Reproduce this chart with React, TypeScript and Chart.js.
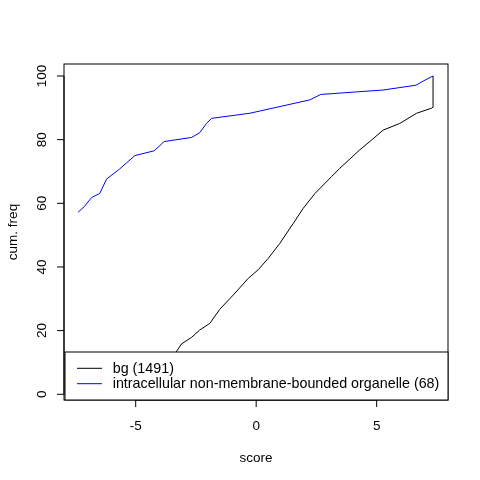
import { useEffect, useRef } from "react"
import { Chart, registerables } from "chart.js"

Chart.register(...registerables)

// ECDF of the background scores
const bgX = [-7.95, -6.0, -5.0, -4.3, -3.8, -3.33, -3.1, -2.68, -2.34, -1.92, -1.51, -0.95, -0.33, 0.08, 0.5, 0.98, 1.54, 1.95, 2.44, 3.13, 3.47, 4.3, 4.79, 5.27, 5.96, 6.66, 7.28, 7.34, 7.34]
const bgY = [0, 1, 3, 6, 9.5, 13.2, 15.8, 17.9, 20.2, 22.3, 26.7, 31.2, 36.4, 39.1, 42.7, 47.4, 53.7, 58.4, 63.1, 68.4, 71.0, 76.8, 79.9, 83.0, 85.1, 88.3, 89.9, 90.2, 100]

// ECDF of the organelle set
const setX = [-7.39, -7.14, -6.83, -6.49, -6.21, -5.68, -5.03, -4.23, -3.82, -2.68, -2.34, -2.06, -1.85, -0.26, 2.23, 2.68, 5.27, 6.63, 6.93, 7.34]
const setY = [57.2, 58.9, 61.8, 63.1, 67.6, 70.7, 75.0, 76.5, 79.4, 80.7, 82.2, 85.1, 86.7, 88.3, 92.5, 94.2, 95.6, 97.1, 98.4, 100]

const seriesLabels = ["bg (1491)", "intracellular non-membrane-bounded organelle (68)"]
const seriesColors = ["#000000", "#0000ff"]
const xTicks = [-5, 0, 5]
const yTicks = [0, 20, 40, 60, 80, 100]
const xTitle = "score"
const yTitle = "cum. freq"

const FONT = '"Liberation Sans", Arial, sans-serif'

// R-style axes, box and legend
const baseGraphics = {
  id: "baseGraphics",
  afterDatasetsDraw(chart: Chart) {
    const { ctx, chartArea } = chart
    const xs = chart.scales.x
    const ys = chart.scales.y
    const { left, right, top, bottom } = chartArea
    ctx.save()
    ctx.strokeStyle = "#000"
    ctx.fillStyle = "#000"
    ctx.lineWidth = 1

    // box
    ctx.strokeRect(left, top, right - left, bottom - top)

    // x axis
    ctx.beginPath()
    ctx.moveTo(xs.getPixelForValue(xTicks[0]), bottom)
    ctx.lineTo(xs.getPixelForValue(xTicks[xTicks.length - 1]), bottom)
    xTicks.forEach((t) => {
      const px = xs.getPixelForValue(t)
      ctx.moveTo(px, bottom)
      ctx.lineTo(px, bottom + 7)
    })
    ctx.stroke()
    ctx.font = `13.5px ${FONT}`
    ctx.textAlign = "center"
    ctx.textBaseline = "alphabetic"
    xTicks.forEach((t) => {
      ctx.fillText(String(t), xs.getPixelForValue(t), 430)
    })
    ctx.fillText(xTitle, (left + right) / 2, 461.5)

    // y axis
    ctx.beginPath()
    ctx.moveTo(left, ys.getPixelForValue(yTicks[0]))
    ctx.lineTo(left, ys.getPixelForValue(yTicks[yTicks.length - 1]))
    yTicks.forEach((t) => {
      const py = ys.getPixelForValue(t)
      ctx.moveTo(left, py)
      ctx.lineTo(left - 7, py)
    })
    ctx.stroke()
    yTicks.forEach((t) => {
      ctx.save()
      ctx.translate(46, ys.getPixelForValue(t))
      ctx.rotate(-Math.PI / 2)
      ctx.fillText(String(t), 0, 0)
      ctx.restore()
    })
    ctx.save()
    ctx.translate(17, (top + bottom) / 2)
    ctx.rotate(-Math.PI / 2)
    ctx.fillText(yTitle, 0, 0)
    ctx.restore()

    // legend
    ctx.fillStyle = "#fff"
    ctx.fillRect(65, 352, right - 65, bottom - 352)
    ctx.strokeStyle = "#000"
    ctx.strokeRect(65, 352, right - 65, bottom - 352)
    ctx.font = `14.3px ${FONT}`
    ctx.textAlign = "left"
    ctx.textBaseline = "middle"
    const rows = [368.3, 383.7]
    seriesLabels.forEach((lab, i) => {
      ctx.strokeStyle = seriesColors[i]
      ctx.beginPath()
      ctx.moveTo(77, rows[i])
      ctx.lineTo(102, rows[i])
      ctx.stroke()
      ctx.fillStyle = "#000"
      ctx.fillText(lab, 112.7, rows[i] + 0.5)
    })
    ctx.restore()
  },
}

export default function App() {
  const chartRef = useRef<HTMLCanvasElement>(null)
  const chartInstance = useRef<Chart | null>(null)

  useEffect(() => {
    if (!chartRef.current) return
    if (chartInstance.current) chartInstance.current.destroy()
    const ctx = chartRef.current.getContext("2d")
    if (!ctx) return

    chartInstance.current = new Chart(ctx, {
      type: "line",
      data: {
        datasets: [
          {
            label: seriesLabels[0],
            data: bgX.map((x, i) => ({ x, y: bgY[i] })),
            borderColor: seriesColors[0],
            borderWidth: 1,
            pointRadius: 0,
            tension: 0,
            fill: false,
          },
          {
            label: seriesLabels[1],
            data: setX.map((x, i) => ({ x, y: setY[i] })),
            borderColor: seriesColors[1],
            borderWidth: 1,
            pointRadius: 0,
            tension: 0,
            fill: false,
          },
        ],
      },
      options: {
        responsive: false,
        animation: false,
        devicePixelRatio: 1,
        layout: { padding: { left: 64, top: 64, right: 32, bottom: 80 } },
        scales: {
          x: { type: "linear", min: -7.975, max: 7.96, display: false },
          y: { type: "linear", min: -1.8, max: 103.77, display: false },
        },
        plugins: {
          legend: { display: false },
          tooltip: { enabled: false },
        },
      },
      plugins: [baseGraphics],
    })

    return () => {
      if (chartInstance.current) {
        chartInstance.current.destroy()
        chartInstance.current = null
      }
    }
  }, [])

  return (
    <div style={{ position: "absolute", left: 0, top: 0, width: 480, height: 480, background: "#fff" }}>
      <canvas ref={chartRef} width={480} height={480} />
    </div>
  )
}
